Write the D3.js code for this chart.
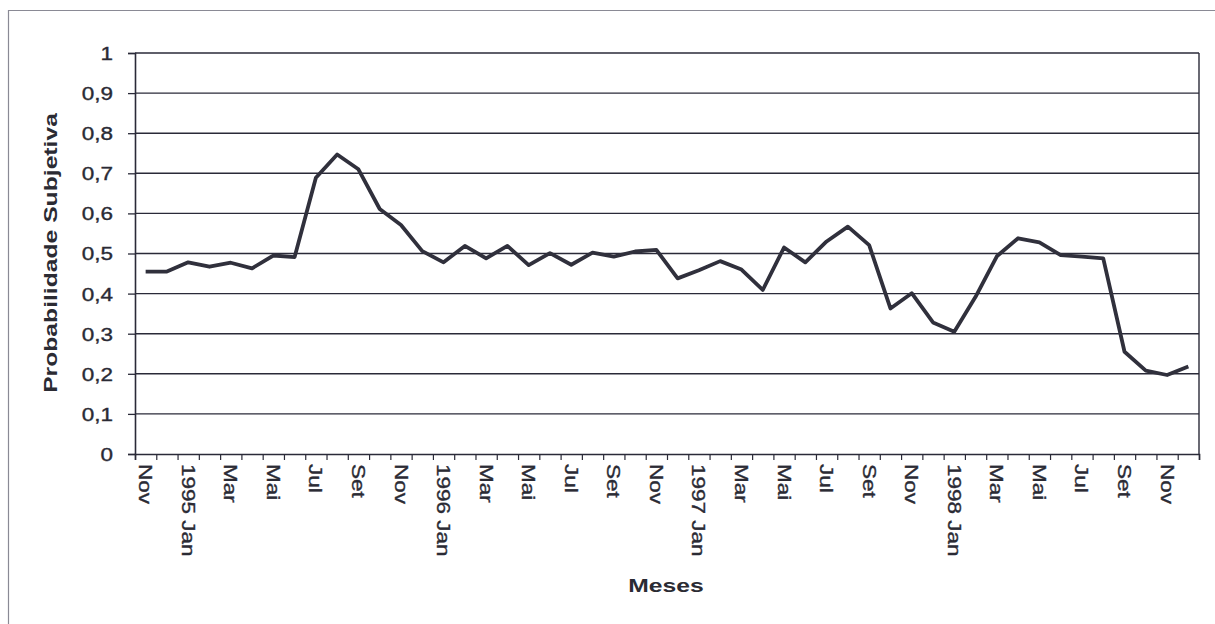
<!DOCTYPE html>
<html>
<head>
<meta charset="utf-8">
<script src="https://cdn.jsdelivr.net/npm/d3@7"></script>
<style>
  html, body { margin: 0; padding: 0; background: #ffffff; }
  svg { display: block; }
  text { font-family: "Liberation Sans", Arial, sans-serif; fill: #2b2b33; }
</style>
</head>
<body>
<svg id="chart" width="1215" height="624"></svg>
<script>
// Monthly categories, Nov 1994 – Dez 1998
const months = ["Nov 1994", "Dez 1994",
  "Jan 1995", "Fev 1995", "Mar 1995", "Abr 1995", "Mai 1995", "Jun 1995", "Jul 1995", "Ago 1995", "Set 1995", "Out 1995", "Nov 1995", "Dez 1995",
  "Jan 1996", "Fev 1996", "Mar 1996", "Abr 1996", "Mai 1996", "Jun 1996", "Jul 1996", "Ago 1996", "Set 1996", "Out 1996", "Nov 1996", "Dez 1996",
  "Jan 1997", "Fev 1997", "Mar 1997", "Abr 1997", "Mai 1997", "Jun 1997", "Jul 1997", "Ago 1997", "Set 1997", "Out 1997", "Nov 1997", "Dez 1997",
  "Jan 1998", "Fev 1998", "Mar 1998", "Abr 1998", "Mai 1998", "Jun 1998", "Jul 1998", "Ago 1998", "Set 1998", "Out 1998", "Nov 1998", "Dez 1998"];

// Tick labels shown under every second month
const monthLabels = ["Nov", "", "1995 Jan", "", "Mar", "", "Mai", "", "Jul", "", "Set", "", "Nov", "",
  "1996 Jan", "", "Mar", "", "Mai", "", "Jul", "", "Set", "", "Nov", "",
  "1997 Jan", "", "Mar", "", "Mai", "", "Jul", "", "Set", "", "Nov", "",
  "1998 Jan", "", "Mar", "", "Mai", "", "Jul", "", "Set", "", "Nov", ""];

// Subjective probability per month
const probabilidade = [0.455, 0.455, 0.478, 0.467, 0.477, 0.463, 0.495, 0.491, 0.689, 0.747, 0.710, 0.611, 0.571, 0.506,
  0.478, 0.519, 0.488, 0.519, 0.471, 0.501, 0.472, 0.502, 0.492, 0.505, 0.509, 0.438,
  0.458, 0.481, 0.460, 0.409, 0.515, 0.478, 0.530, 0.567, 0.521, 0.363, 0.401, 0.328,
  0.305, 0.392, 0.493, 0.538, 0.528, 0.496, 0.492, 0.488, 0.255, 0.208, 0.197, 0.218];

const yTicks = [0, 0.1, 0.2, 0.3, 0.4, 0.5, 0.6, 0.7, 0.8, 0.9, 1];
const yTickLabels = ["0", "0,1", "0,2", "0,3", "0,4", "0,5", "0,6", "0,7", "0,8", "0,9", "1"];

const ink = "#2a2a38";
const stretch = 1.25; // glyphs are wide along their reading direction

const svg = d3.select("#chart");
const plot = { left: 135, right: 1199, top: 53, bottom: 454 };

// Outer frame of the chart area
svg.append("path")
  .attr("d", "M8.5,640 L8.5,10.5 L1230,10.5")
  .attr("fill", "none")
  .attr("stroke", "#8a8a95")
  .attr("stroke-width", 1.2);

const x = d3.scaleBand().domain(months).range([plot.left, plot.right]).padding(0);
const xEdges = d3.scaleLinear().domain([0, months.length]).range([plot.left, plot.right]);
const y = d3.scaleLinear().domain([0, 1]).range([plot.bottom, plot.top]);

// Horizontal gridlines
svg.append("g")
  .selectAll("line")
  .data(yTicks.filter(v => v > 0))
  .join("line")
  .attr("x1", plot.left).attr("x2", plot.right)
  .attr("y1", d => y(d)).attr("y2", d => y(d))
  .attr("stroke", ink)
  .attr("stroke-width", 1.4);

// Right border of plot area
svg.append("line")
  .attr("x1", plot.right).attr("x2", plot.right)
  .attr("y1", plot.top).attr("y2", plot.bottom)
  .attr("stroke", ink).attr("stroke-width", 1.4);

// Y axis
const yAxis = svg.append("g")
  .attr("transform", `translate(${plot.left},0)`)
  .call(d3.axisLeft(y).tickValues(yTicks).tickSize(7).tickFormat((d, i) => yTickLabels[i]));
yAxis.select(".domain").attr("stroke", ink).attr("stroke-width", 1.6);
yAxis.selectAll(".tick line").attr("stroke", ink).attr("stroke-width", 1.3);
yAxis.selectAll(".tick text")
  .attr("x", 0).attr("dy", "0.36em")
  .attr("transform", `translate(-22,0) scale(${stretch},1)`)
  .style("font-size", "18px")
  .attr("fill", ink)
  .attr("stroke", ink).attr("stroke-width", 0.35);

// X axis: ticks at month boundaries
const xTickAxis = svg.append("g")
  .attr("transform", `translate(0,${plot.bottom})`)
  .call(d3.axisBottom(xEdges).tickValues(d3.range(months.length + 1)).tickSize(6).tickFormat(""));
xTickAxis.select(".domain").attr("stroke", ink).attr("stroke-width", 1.6);
xTickAxis.selectAll(".tick line").attr("stroke", ink).attr("stroke-width", 1.2);

// X axis: month labels, rotated
const xLabelAxis = svg.append("g")
  .attr("transform", `translate(0,${plot.bottom})`)
  .call(d3.axisBottom(x).tickValues(months.filter((m, i) => monthLabels[i] !== ""))
    .tickSize(0).tickFormat(m => monthLabels[months.indexOf(m)]));
xLabelAxis.select(".domain").remove();
xLabelAxis.selectAll(".tick text")
  .attr("x", 0).attr("y", 0).attr("dy", "0.36em")
  .attr("text-anchor", "start")
  .attr("transform", `translate(0,10) rotate(90) scale(${stretch},1)`)
  .style("font-size", "18px")
  .attr("fill", ink)
  .attr("stroke", ink).attr("stroke-width", 0.35);

// Data line
const line = d3.line()
  .x((d, i) => x(months[i]) + x.bandwidth() / 2)
  .y(d => y(d));

svg.append("path")
  .datum(probabilidade)
  .attr("d", line)
  .attr("fill", "none")
  .attr("stroke", "#30303c")
  .attr("stroke-width", 3.8)
  .attr("stroke-linejoin", "round");

// Axis titles
svg.append("text")
  .attr("transform", `translate(57,253) rotate(-90) scale(1.3,1)`)
  .attr("text-anchor", "middle")
  .style("font-size", "19px")
  .style("font-weight", "bold")
  .attr("fill", ink)
  .text("Probabilidade Subjetiva");

svg.append("text")
  .attr("transform", `translate(666,592) scale(1.3,1)`)
  .attr("text-anchor", "middle")
  .style("font-size", "19px")
  .style("font-weight", "bold")
  .attr("fill", ink)
  .text("Meses");
</script>
</body>
</html>
